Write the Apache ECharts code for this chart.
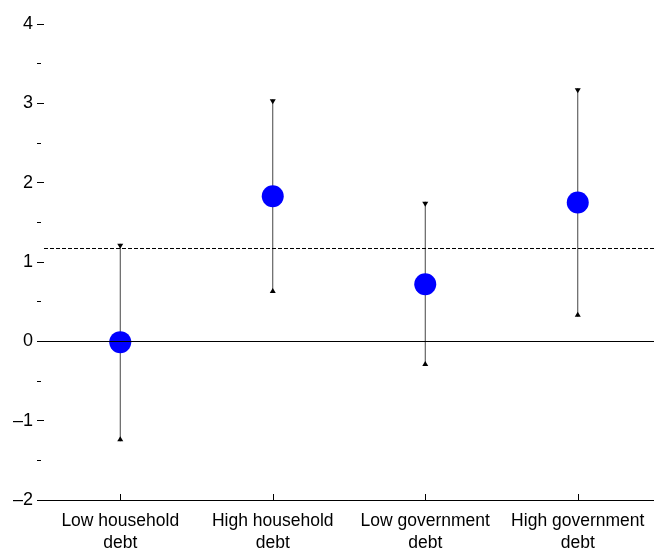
<!DOCTYPE html>
<html>
<head>
<meta charset="utf-8">
<script src="https://cdn.jsdelivr.net/npm/echarts@6/dist/echarts.min.js"></script>
<style>html,body{margin:0;padding:0;background:#fff}#c{width:654px;height:554px}</style>
</head>
<body>
<div id="c"></div>
<script>
var categories = ['Low household\ndebt', 'High household\ndebt', 'Low government\ndebt', 'High government\ndebt'];
var estimates = [-0.01, 1.83, 0.72, 1.75];
var lowerBounds = [-1.26, 0.61, -0.31, 0.31];
var upperBounds = [1.23, 3.05, 1.76, 3.19];
var thresholdValue = 1.17;
var yTicks = [-2, -1, 0, 1, 2, 3, 4];

var FONT = '"Liberation Sans", Arial, sans-serif';
var chart = echarts.init(document.getElementById('c'), null, {renderer: 'canvas'});

var errData = categories.map(function (c, i) { return [i, lowerBounds[i], upperBounds[i]]; });

chart.setOption({
  animation: false,
  grid: {left: 44, right: -1, top: 24, bottom: 49, containLabel: false},
  xAxis: {
    type: 'category',
    data: categories,
    boundaryGap: true,
    axisLine: {show: true, onZero: false, lineStyle: {color: '#000', width: 1}},
    axisTick: {show: true, inside: true, length: 6, alignWithLabel: true, lineStyle: {color: '#000'}},
    axisLabel: {color: '#000', fontFamily: FONT, fontSize: 17.5, lineHeight: 22, margin: 10, interval: 0},
    splitLine: {show: false}
  },
  yAxis: [{
    type: 'value',
    min: yTicks[0], max: yTicks[yTicks.length - 1], interval: 1,
    axisLine: {show: false},
    axisTick: {show: true, length: 7, lineStyle: {color: '#000'}},
    axisLabel: {color: '#000', fontFamily: FONT, fontSize: 18, margin: 11,
      formatter: function (v) { return String(v).replace('-', '\u2013'); }},
    splitLine: {show: false}
  }, {
    type: 'value', position: 'left', offset: 7,
    min: yTicks[0], max: yTicks[yTicks.length - 1], interval: 0.5,
    axisLine: {show: false},
    axisTick: {show: true, inside: true, length: 4, lineStyle: {color: '#000'}},
    axisLabel: {show: false},
    splitLine: {show: false}
  }],
  series: [{
    type: 'custom',
    z: 1,
    data: errData,
    renderItem: function (params, api) {
      var x = api.value(0);
      var lo = api.coord([x, api.value(1)]);
      var hi = api.coord([x, api.value(2)]);
      var w = 3, h = 5;
      return {
        type: 'group',
        children: [{
          type: 'line',
          shape: {x1: lo[0], y1: lo[1], x2: hi[0], y2: hi[1]},
          style: {stroke: '#444', lineWidth: 1}
        }, {
          type: 'polygon',
          shape: {points: [[hi[0] - w, hi[1]], [hi[0] + w, hi[1]], [hi[0], hi[1] + h]]},
          style: {fill: '#000'}
        }, {
          type: 'polygon',
          shape: {points: [[lo[0] - w, lo[1]], [lo[0] + w, lo[1]], [lo[0], lo[1] - h]]},
          style: {fill: '#000'}
        }]
      };
    }
  }, {
    type: 'scatter',
    z: 3,
    data: estimates,
    symbol: 'circle',
    symbolSize: 22,
    itemStyle: {color: '#0000ff', opacity: 1},
    markLine: {
      silent: true,
      symbol: ['none', 'none'],
      label: {show: false},
      z: 4,
      data: [
        {yAxis: 0, lineStyle: {type: 'solid', color: '#000', width: 1}},
        {yAxis: thresholdValue, lineStyle: {type: [4, 2], color: '#000', width: 1}}
      ]
    }
  }]
});
</script>
</body>
</html>
